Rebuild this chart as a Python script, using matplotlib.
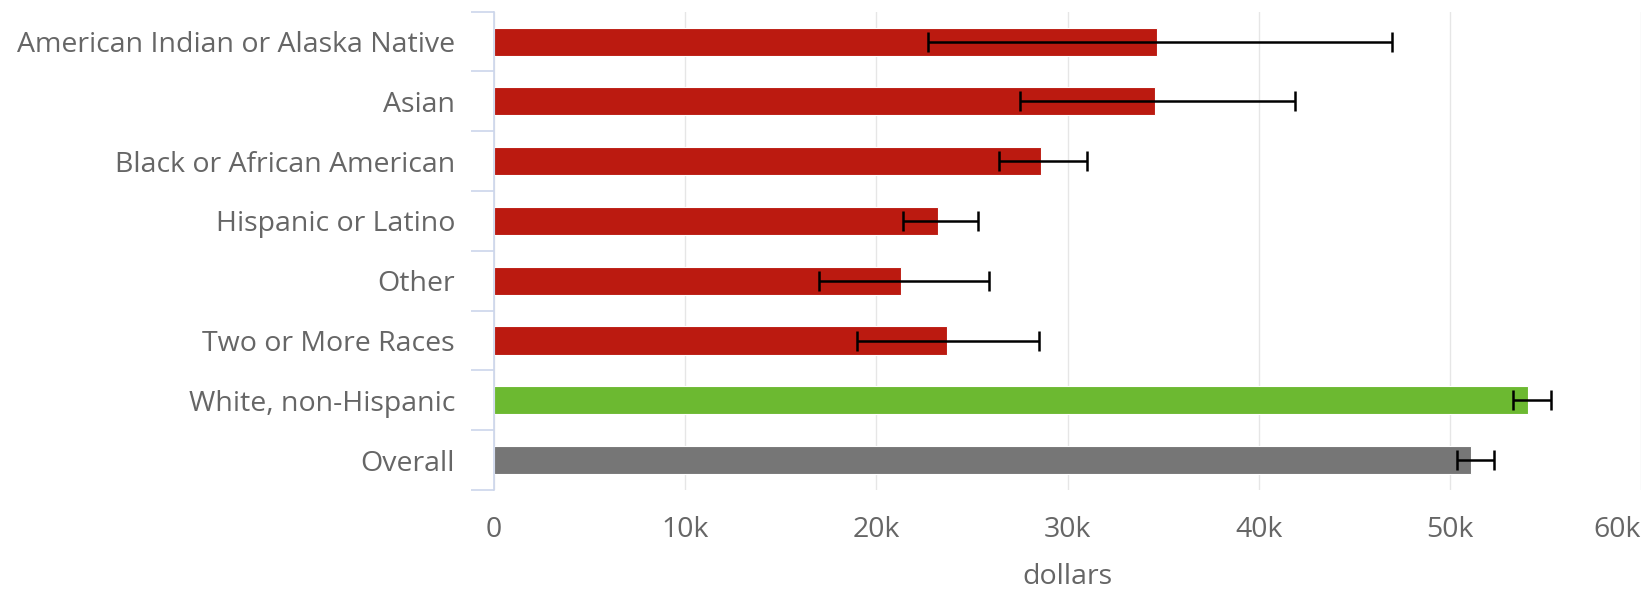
import matplotlib.pyplot as plt
import numpy as np
from matplotlib.ticker import FuncFormatter

# data (dollars)
categories = [
    "American Indian or Alaska Native",
    "Asian",
    "Black or African American",
    "Hispanic or Latino",
    "Other",
    "Two or More Races",
    "White, non-Hispanic",
    "Overall",
]
values = [34700, 34600, 28600, 23200, 21300, 23700, 54100, 51100]
err_low = [22700, 27500, 26400, 21400, 17000, 19000, 53300, 50400]
err_high = [47000, 41900, 31000, 25300, 25900, 28500, 55300, 52300]
bar_colors = ["#bb1a10"] * 6 + ["#6cb931", "#767676"]

plt.rcParams["font.family"] = ["Open Sans", "DejaVu Sans"]
text_color = "#666666"
axis_color = "#ccd6eb"
fsize = 20.5

W, H = 1652, 593
fig = plt.figure(figsize=(W / 100, H / 100), dpi=100)
left, right, top, bottom = 494, 1641, 11.7, 490
ax = fig.add_axes([left / W, 1 - bottom / H, (right - left) / W, (bottom - top) / H])

y = np.arange(len(categories))
vals = np.array(values)
xerr = np.array([vals - np.array(err_low), np.array(err_high) - vals])

ax.barh(y, vals, height=0.47, color=bar_colors, edgecolor="white", linewidth=0.8, zorder=2)
ax.errorbar(vals, y, xerr=xerr, fmt="none", ecolor="black", elinewidth=1.8,
            capsize=7.5, capthick=1.8, zorder=3)

ax.set_xlim(0, 60000)
ax.set_ylim(len(categories) - 0.5, -0.5)

ax.set_xticks(np.arange(0, 60001, 10000))
ax.xaxis.set_major_formatter(FuncFormatter(lambda v, p: "0" if v == 0 else f"{int(v / 1000)}k"))
ax.tick_params(axis="x", length=0, pad=19, labelsize=fsize, labelcolor=text_color)
ax.grid(axis="x", color="#e6e6e6", linewidth=1, zorder=0)
ax.set_axisbelow(True)

ax.set_yticks(y)
ax.set_yticklabels(categories)
ax.tick_params(axis="y", which="major", length=0, pad=28, labelsize=fsize, labelcolor=text_color)
ax.set_yticks(np.arange(-0.5, len(categories), 1), minor=True)
ax.tick_params(axis="y", which="minor", length=16.5, width=1.2, color=axis_color)

for s in ["top", "right", "bottom"]:
    ax.spines[s].set_visible(False)
ax.spines["left"].set_color(axis_color)
ax.spines["left"].set_linewidth(1.2)

ax.set_xlabel("dollars", fontsize=fsize, color=text_color, va="baseline")
ax.xaxis.set_label_coords(0.5, -(584 - bottom) / (bottom - top))

# keep the last tick label inside the figure, like the reference
fig.canvas.draw()
ax.get_xticklabels()[-1].set_horizontalalignment("right")

fig.savefig("out.png", dpi=100)
